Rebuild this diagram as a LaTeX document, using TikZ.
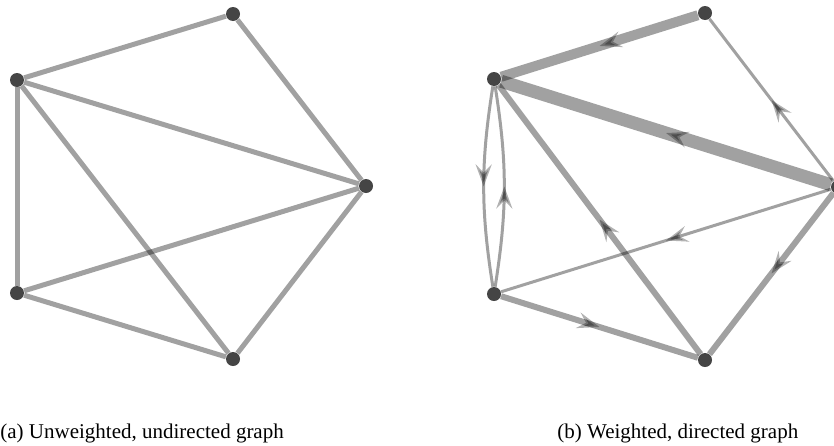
\documentclass[tikz,border=0pt]{standalone}
\usepackage{fontspec}
\setmainfont{Liberation Serif}
\usetikzlibrary{arrows.meta,decorations.markings,backgrounds}

\begin{document}
\begin{tikzpicture}[x=0.5pt,y=-0.5pt,>=Stealth]
    \definecolor{vtxgray}{HTML}{454545}
    \tikzset{
      vtx/.style={circle,fill=vtxgray,inner sep=0pt,minimum size=7pt},
      edge/.style={draw=black,draw opacity=0.37,line width=#1},
      edge/.default=2.5pt,
      midarrow/.style={postaction={decorate},
        decoration={markings,mark=at position 0.5 with
          {\arrow[black,opacity=0.3]{Stealth[length=11pt,width=8pt,inset=4pt]}}}},
      caption/.style={anchor=base west,inner sep=0pt,font=\fontsize{10.5}{12}\selectfont},
    }
    \useasboundingbox (0,0) rectangle (834,445);
    % (a) ungewichtet, ungerichtet
    \node[vtx] (u1) at (233,14) {};
    \node[vtx] (u2) at (17,80) {};
    \node[vtx] (u3) at (366,186) {};
    \node[vtx] (u4) at (17,293) {};
    \node[vtx] (u5) at (233,359) {};
    \begin{scope}[on background layer]
      \foreach \a/\b in {u1/u2,u1/u3,u2/u3,u2/u4,u2/u5,u3/u4,u3/u5,u4/u5}
        \draw[edge] (\a) -- (\b);
    \end{scope}
    % (b) gewichtet, gerichtet
    \node[vtx] (w1) at (705,13) {};
    \node[vtx] (w2) at (494,79) {};
    \node[vtx] (w3) at (838,187) {};
    \node[vtx] (w4) at (494,294) {};
    \node[vtx] (w5) at (705,360) {};
    \begin{scope}[on background layer]
      \draw[edge=5pt,midarrow] (w1) -- (w2);
      \draw[edge=1.5pt,midarrow] (w3) -- (w1);
      \draw[edge=6.5pt,midarrow] (w3) -- (w2);
      \draw[edge=1.5pt,midarrow] (w2) to[bend right=9] (w4);
      \draw[edge=1.5pt,midarrow] (w4) to[bend right=9] (w2);
      \draw[edge=3pt,midarrow] (w5) -- (w2);
      \draw[edge=1.5pt,midarrow] (w3) -- (w4);
      \draw[edge=3pt,midarrow] (w3) -- (w5);
      \draw[edge=3pt,midarrow] (w4) -- (w5);
    \end{scope}
    % Unterschriften
    \node[caption] (capa) at (0,438) {(a) Unweighted, undirected graph};
    \node[caption] (capb) at (557,438) {(b) Weighted, directed graph};
\end{tikzpicture}
\end{document}
